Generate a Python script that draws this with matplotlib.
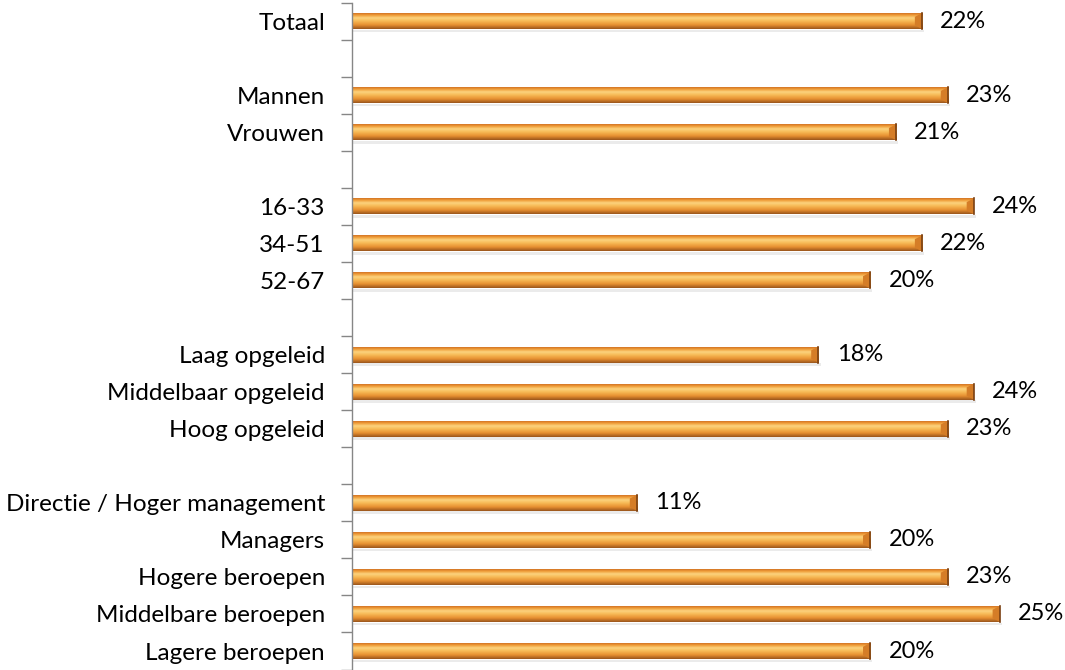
import numpy as np
import matplotlib.pyplot as plt
from matplotlib.colors import LinearSegmentedColormap
from matplotlib.patches import Polygon

plt.rcParams['font.family'] = ['Lato', 'DejaVu Sans']

# "" / None = empty spacer row between groups
labels = ["Totaal", "", "Mannen", "Vrouwen", "", "16-33", "34-51", "52-67", "",
          "Laag opgeleid", "Middelbaar opgeleid", "Hoog opgeleid", "",
          "Directie / Hoger management", "Managers", "Hogere beroepen",
          "Middelbare beroepen", "Lagere beroepen"]
values = [22, None, 23, 21, None, 24, 22, 20, None,
          18, 24, 23, None,
          11, 20, 23, 25, 20]

# vertical gradient for the bevelled bars (top -> bottom)
bar_cmap = LinearSegmentedColormap.from_list("bar", [
    (0.0, "#d27426"), (0.12, "#ef9a35"), (0.3, "#fcd37e"),
    (0.5, "#f7b955"), (0.75, "#e68f30"), (1.0, "#9a561c")])

fig = plt.figure(figsize=(10.65, 6.7), dpi=100)
ax = fig.add_axes([0.3305, 0.0007, 0.657, 0.9955])

n = len(labels)
h = 0.43
grad = np.linspace(0, 1, 64).reshape(-1, 1)
for i, (lab, v) in enumerate(zip(labels, values)):
    if v is None:
        continue
    y0, y1 = i - h / 2, i + h / 2
    # soft shadow
    ax.fill_between([0.05, v + 0.08], y1 + 0.02, y1 + 0.09, color="#000000",
                    alpha=0.08, lw=0, zorder=1)
    ax.imshow(grad, cmap=bar_cmap, aspect="auto", extent=[0, v, y1, y0],
              zorder=2, interpolation="bilinear")
    # bevel at the right end
    d = 0.28
    ax.add_patch(Polygon([[v - d, y0 + 0.1], [v, y0], [v, y1], [v - d, y1 - 0.1]],
                         closed=True, facecolor="#d57d27", edgecolor="none",
                         zorder=3))
    ax.plot([v, v], [y0, y1], color="#7a4012", lw=1.2, zorder=4)
    ax.text(v + 0.7, i, f"{v}%", va="center", ha="left", fontsize=17,
            color="black")

ax.set_xlim(0, 27)
ax.set_ylim(n - 0.5, -0.5)

# ticks on category boundaries, labels in between
ax.set_yticks(np.arange(n + 1) - 0.5)
ax.set_yticklabels([])
ax.set_yticks(np.arange(n), minor=True)
ax.set_yticklabels(labels, minor=True, fontsize=17.5)
ax.tick_params(axis="y", which="major", length=8, width=1, color="#868686",
               direction="out")
ax.tick_params(axis="y", which="minor", length=0, pad=19.5)
ax.set_xticks([])

for s in ["top", "right", "bottom"]:
    ax.spines[s].set_visible(False)
ax.spines["left"].set_color("#868686")
ax.spines["left"].set_linewidth(1)

fig.savefig("out.png", dpi=100)
